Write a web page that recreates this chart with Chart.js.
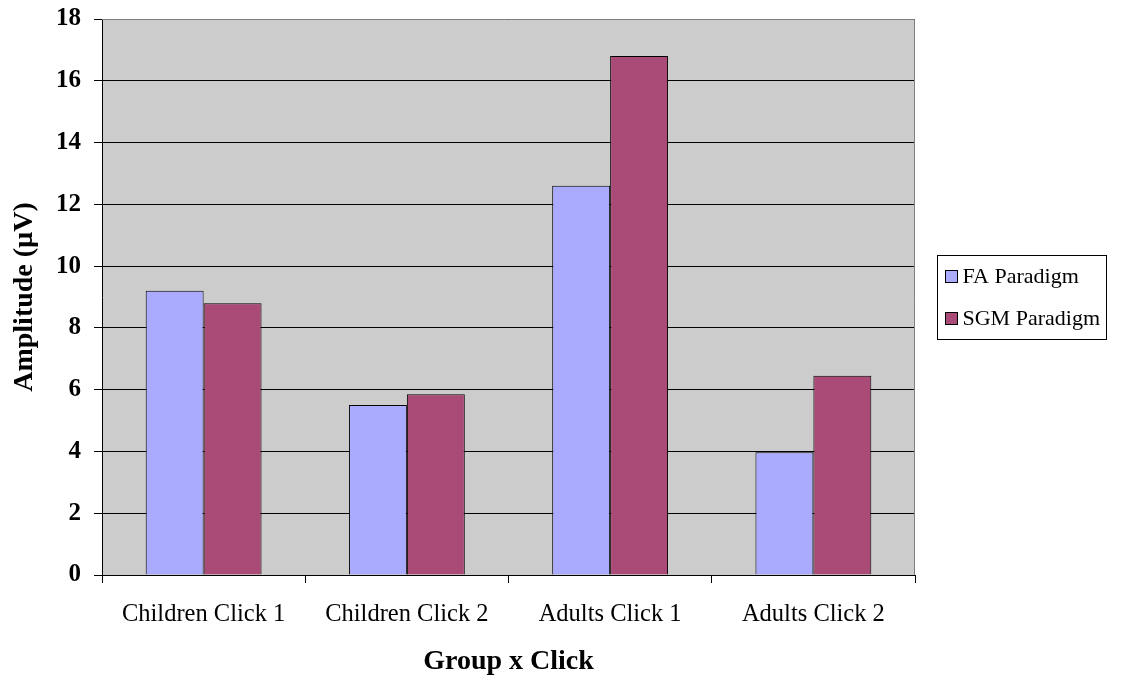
<!DOCTYPE html>
<html>
<head>
<meta charset="utf-8">
<script src="https://cdn.jsdelivr.net/npm/chart.js@4.4.0/dist/chart.umd.min.js"></script>
<style>
  html, body { margin: 0; padding: 0; background: #ffffff; }
  #wrap { width: 1136px; height: 679px; position: relative; }
</style>
</head>
<body>
<div id="wrap"><canvas id="c" width="1136" height="679"></canvas></div>
<script>
// Mean amplitude per group / click, for each paradigm
const categories = ['Children Click 1', 'Children Click 2', 'Adults Click 1', 'Adults Click 2'];
const faParadigm = [9.2, 5.5, 12.6, 3.97];
const sgmParadigm = [8.8, 5.85, 16.8, 6.45];
const seriesNames = ['FA Paradigm', 'SGM Paradigm'];
const seriesColors = ['#AAAAFF', '#AA4A76'];
const yMin = 0, yMax = 18, yStep = 2;

const SERIF = '"Liberation Serif", "Times New Roman", Times, serif';

// Grey plot background
const plotBackground = {
  id: 'plotBackground',
  beforeDraw(chart) {
    const { ctx, chartArea: a } = chart;
    ctx.save();
    ctx.fillStyle = '#CCCCCC';
    ctx.fillRect(a.left, a.top, a.right - a.left, a.bottom - a.top);
    ctx.restore();
  }
};

// Grey frame on top and right of the plot area
const plotFrame = {
  id: 'plotFrame',
  afterDatasetsDraw(chart) {
    const { ctx, chartArea: a } = chart;
    ctx.save();
    ctx.strokeStyle = '#808080';
    ctx.lineWidth = 1;
    ctx.beginPath();
    ctx.moveTo(a.left, a.top + 0.5);
    ctx.lineTo(a.right - 0.5, a.top + 0.5);
    ctx.lineTo(a.right - 0.5, a.bottom);
    ctx.stroke();
    ctx.restore();
  }
};

// Boxed legend to the right of the plot
const boxedLegend = {
  id: 'boxedLegend',
  afterDraw(chart) {
    const { ctx, chartArea: a } = chart;
    const fontSize = 22;
    ctx.save();
    ctx.font = fontSize + 'px ' + SERIF;
    const textW = Math.max(...chart.data.datasets.map(d => ctx.measureText(d.label).width));
    const x0 = a.right + 22.5;
    const rowH = 42;
    const boxH = rowH * chart.data.datasets.length;
    const w = 8 + 12 + 5 + textW + 6;
    const yc = (a.top + a.bottom) / 2;
    const y0 = Math.round(yc - boxH / 2) + 0.5;
    ctx.strokeStyle = '#000';
    ctx.lineWidth = 1;
    ctx.strokeRect(x0, y0, Math.round(w), boxH);
    chart.data.datasets.forEach((d, i) => {
      const cy = y0 + rowH * i + rowH / 2;
      ctx.fillStyle = d.backgroundColor;
      ctx.fillRect(x0 + 8, cy - 6, 12, 12);
      ctx.strokeStyle = '#000';
      ctx.strokeRect(x0 + 8, cy - 6, 12, 12);
      ctx.fillStyle = '#000';
      ctx.textBaseline = 'middle';
      ctx.textAlign = 'left';
      ctx.fillText(d.label, x0 + 8 + 12 + 5, cy + 1);
    });
    ctx.restore();
  }
};

new Chart(document.getElementById('c'), {
  type: 'bar',
  data: {
    labels: categories,
    datasets: [
      { label: seriesNames[0], data: faParadigm, backgroundColor: seriesColors[0],
        borderColor: '#000', borderWidth: 1 },
      { label: seriesNames[1], data: sgmParadigm, backgroundColor: seriesColors[1],
        borderColor: '#000', borderWidth: 1 }
    ]
  },
  options: {
    responsive: false,
    animation: false,
    devicePixelRatio: 1,
    layout: { padding: { top: 19, right: 221, left: 0, bottom: 0 } },
    datasets: { bar: { categoryPercentage: 0.57, barPercentage: 1.0 } },
    plugins: {
      legend: { display: false },
      tooltip: { enabled: false }
    },
    scales: {
      x: {
        afterFit(scale) { scale.height = 104; },
        grid: { display: true, drawOnChartArea: false, drawTicks: true, tickLength: 8,
                color: '#000', offset: true },
        border: { display: true, color: '#000', width: 1 },
        ticks: { color: '#000', padding: 17, font: { family: SERIF, size: 24.5 } },
        title: { display: true, text: 'Group x Click', color: '#000',
                 padding: { top: 0, bottom: 0 },
                 font: { family: SERIF, size: 28, weight: 'bold' } }
      },
      y: {
        min: yMin, max: yMax,
        afterFit(scale) {
          scale.width = 102;
          scale.paddingTop = 0;
          scale.paddingBottom = 0;
        },
        grid: { color: '#000', tickLength: 8, drawTicks: true },
        border: { display: true, color: '#000', width: 1 },
        ticks: { stepSize: yStep, color: '#000', padding: 13,
                 font: { family: SERIF, size: 25, weight: 'bold' } },
        title: { display: true, text: 'Amplitude (\u00B5V)', color: '#000',
                 padding: { top: 8, bottom: 0 },
                 font: { family: SERIF, size: 28, weight: 'bold' } }
      }
    }
  },
  plugins: [plotBackground, plotFrame, boxedLegend]
});
</script>
</body>
</html>
